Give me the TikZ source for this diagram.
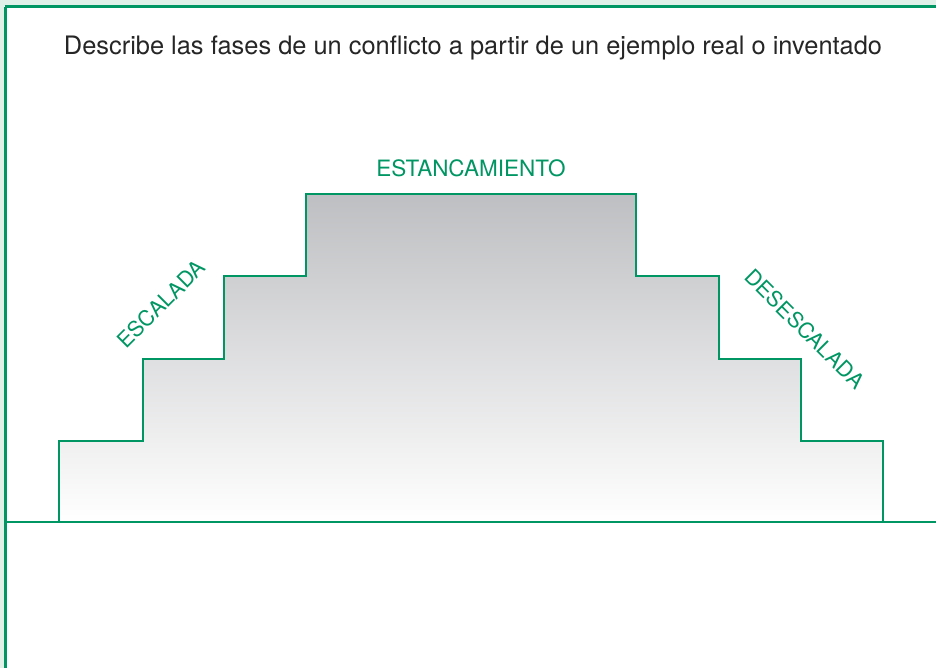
\documentclass[tikz,border=0pt]{standalone}
\usepackage{fontspec}
\setmainfont{TeX Gyre Heros}
\usepackage{xcolor}
\usepackage{tikz}
\definecolor{fasegreen}{RGB}{0,150,100}
\definecolor{bandgreen}{RGB}{222,240,232}
\definecolor{stepgray}{RGB}{190,191,194}
\tikzset{
  phase/.style={text=fasegreen,font=\fontsize{22.5}{22.5}\selectfont,inner sep=0pt},
  frame/.style={draw=fasegreen,line width=3pt},
  steps/.style={draw=fasegreen,line width=2pt,line join=miter}
}

\begin{document}
\begin{tikzpicture}[x=1pt,y=-1pt]
    \useasboundingbox (0,0) rectangle (936,668);
    \fill[white] (0,0) rectangle (936,668);

    % Outer frame
    \fill[bandgreen] (0,0) rectangle (936,6);
    \fill[bandgreen] (0,0) rectangle (4,668);
    \draw[frame] (5,7) -- (936,7);
    \draw[frame] (5,7) -- (5,668);

    % Title
    \node[font=\fontsize{25.4}{25.4}\selectfont,text=black!85] (title) at (473,48)
        {Describe las fases de un conflicto a partir de un ejemplo real o inventado};

    % Steps
    \shade[top color=stepgray,bottom color=white]
        (59,522) -- (59,441) -- (143,441) -- (143,359) -- (224,359) -- (224,276)
        -- (306,276) -- (306,194) -- (636,194) -- (636,276) -- (719,276)
        -- (719,359) -- (801,359) -- (801,441) -- (883,441) -- (883,522) -- cycle;
    \draw[steps]
        (59,522) -- (59,441) -- (143,441) -- (143,359) -- (224,359) -- (224,276)
        -- (306,276) -- (306,194) -- (636,194) -- (636,276) -- (719,276)
        -- (719,359) -- (801,359) -- (801,441) -- (883,441) -- (883,522);

    % Base line
    \draw[frame,line width=2.5pt] (5,522) -- (936,522);

    % Phases
    \node[phase,font=\fontsize{21.5}{21.5}\selectfont] (escalada) at (161,304) [rotate=45] {ESCALADA};
    \node[phase] (estanca) at (471,168) {ESTANCAMIENTO};
    \node[phase,font=\fontsize{21.5}{21.5}\selectfont] (desescalada) at (805,329) [rotate=-45] {DESESCALADA};
\end{tikzpicture}
\end{document}
